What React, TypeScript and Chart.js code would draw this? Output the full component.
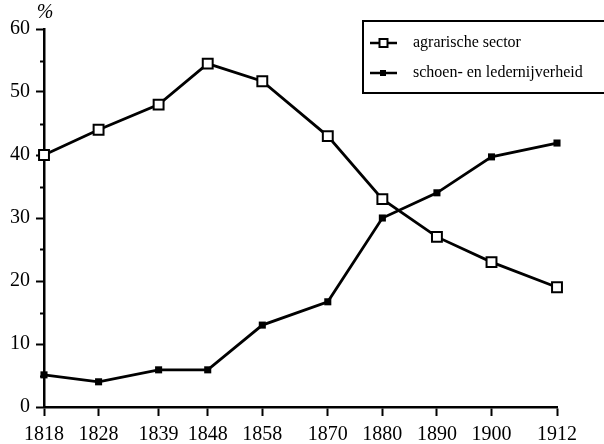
import React, { useEffect, useRef } from "react";
import { Chart, registerables } from "chart.js";

Chart.register(...registerables);

const years = [1818, 1828, 1839, 1848, 1858, 1870, 1880, 1890, 1900, 1912];
const agrarisch = [40, 44, 48, 54.5, 51.7, 43, 33, 27, 23, 19];
const schoen = [5.1, 4, 5.9, 5.9, 13, 16.7, 30, 34, 39.7, 41.9];
const yTicks = [0, 10, 20, 30, 40, 50, 60];
const yMinorTicks = [5, 15, 25, 35, 45, 55];
const seriesLabels = ["agrarische sector", "schoen- en ledernijverheid"];

const SERIF = "'Liberation Serif', 'DejaVu Serif', serif";

const extrasPlugin = {
  id: "extras",
  afterDraw(chart: any) {
    const ctx = chart.ctx;
    const y = chart.scales.y;
    const left = chart.chartArea.left;
    ctx.save();
    // minor ticks
    ctx.strokeStyle = "#000";
    ctx.lineWidth = 2;
    yMinorTicks.forEach((v) => {
      const py = Math.round(y.getPixelForValue(v)) + 0.5;
      ctx.beginPath();
      ctx.moveTo(left - 4, py);
      ctx.lineTo(left, py);
      ctx.stroke();
    });
    // % label
    ctx.fillStyle = "#000";
    ctx.font = `italic 20px ${SERIF}`;
    ctx.textAlign = "center";
    ctx.textBaseline = "middle";
    ctx.fillText("%", 45, 13);
    // legend
    ctx.lineWidth = 2;
    ctx.strokeRect(363, 21, 260, 72);
    chart.data.datasets.forEach((ds: any, i: number) => {
      const ly = 43 + i * 30;
      ctx.strokeStyle = "#000";
      ctx.lineWidth = 2.5;
      ctx.beginPath();
      ctx.moveTo(370, ly);
      ctx.lineTo(397, ly);
      ctx.stroke();
      if (i === 0) {
        ctx.fillStyle = "#fff";
        ctx.fillRect(379.5, ly - 4, 8, 8);
        ctx.lineWidth = 2;
        ctx.strokeRect(379.5, ly - 4, 8, 8);
      } else {
        ctx.fillStyle = "#000";
        ctx.fillRect(380, ly - 3, 6, 6);
      }
      ctx.fillStyle = "#000";
      ctx.font = `16px ${SERIF}`;
      ctx.textAlign = "left";
      ctx.textBaseline = "middle";
      ctx.fillText(ds.label, 413, ly);
    });
    ctx.restore();
  },
};

export default function App() {
  const ref = useRef<HTMLCanvasElement | null>(null);
  useEffect(() => {
    if (!ref.current) return;
    const chart = new Chart(ref.current, {
      type: "line",
      data: {
        datasets: [
          {
            label: seriesLabels[0],
            data: years.map((x, i) => ({ x, y: agrarisch[i] })),
            borderColor: "#000",
            borderWidth: 2.8,
            pointStyle: "rect",
            pointRadius: 7,
            pointBorderWidth: 2,
            pointBackgroundColor: "#fff",
            pointBorderColor: "#000",
            clip: false as any,
          },
          {
            label: seriesLabels[1],
            data: years.map((x, i) => ({ x, y: schoen[i] })),
            borderColor: "#000",
            borderWidth: 2.8,
            pointStyle: "rect",
            pointRadius: 5,
            pointBorderWidth: 0,
            pointBackgroundColor: "#000",
            pointBorderColor: "#000",
            clip: false as any,
          },
        ],
      },
      options: {
        animation: false,
        responsive: false,
        layout: { padding: { top: 29, right: 47, left: 0, bottom: 0 } },
        plugins: { legend: { display: false }, tooltip: { enabled: false } },
        scales: {
          x: {
            type: "linear",
            min: years[0],
            max: years[years.length - 1],
            afterBuildTicks: (s: any) => {
              s.ticks = years.map((v) => ({ value: v }));
            },
            afterFit: (s: any) => {
              s.height = 37;
            },
            grid: {
              drawOnChartArea: false,
              tickLength: 9,
              tickWidth: 2,
              tickColor: "#000",
            },
            border: { display: true, color: "#000", width: 2.5 },
            ticks: {
              color: "#000",
              font: { family: SERIF, size: 20 },
              padding: 7,
              maxRotation: 0,
              autoSkip: false,
              callback: (v: any) => String(v),
            },
          },
          y: {
            type: "linear",
            min: 0,
            max: 60,
            afterBuildTicks: (s: any) => {
              s.ticks = yTicks.map((v) => ({ value: v }));
            },
            afterFit: (s: any) => {
              s.width = 44;
            },
            grid: {
              drawOnChartArea: false,
              tickLength: 8,
              tickWidth: 2,
              tickColor: "#000",
            },
            border: { display: true, color: "#000", width: 2.5 },
            ticks: {
              color: "#000",
              font: { family: SERIF, size: 20 },
              padding: 6,
              callback: (v: any) => String(v),
            },
          },
        },
      },
      plugins: [extrasPlugin],
    } as any);
    return () => chart.destroy();
  }, []);
  return (
    <div style={{ position: "absolute", left: 0, top: 0, width: 604, height: 444, background: "#fff" }}>
      <canvas ref={ref} width={604} height={444} style={{ width: 604, height: 444 }} />
    </div>
  );
}
